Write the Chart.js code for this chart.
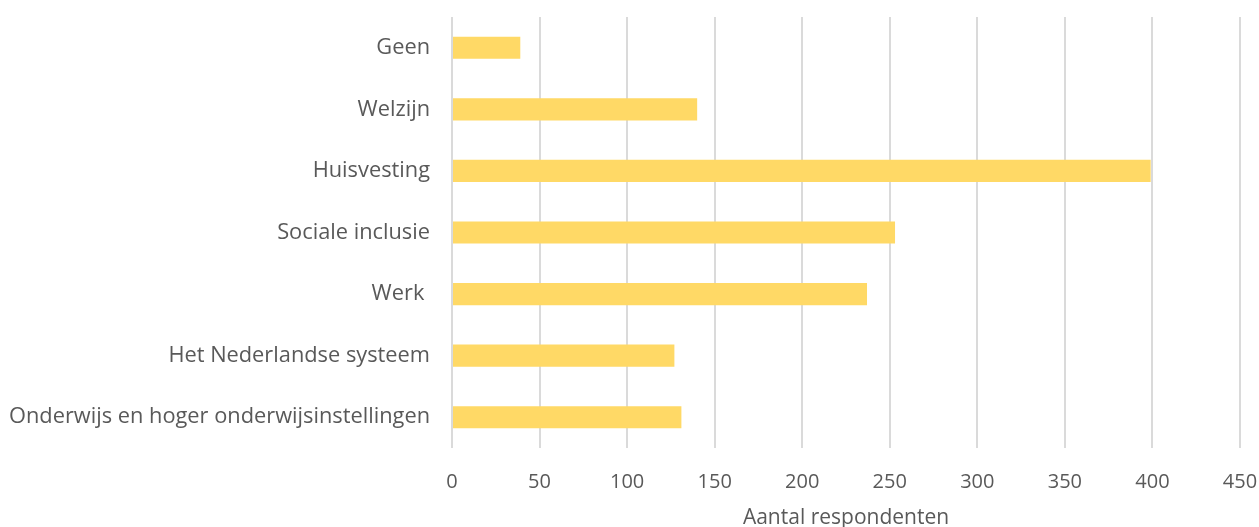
<!DOCTYPE html>
<html lang="nl">

<head>
	<meta charset="UTF-8">
	<title>Aantal respondenten</title>
	<script src="https://cdn.jsdelivr.net/npm/chart.js"></script>
	<style>
		html, body { margin: 0; padding: 0; background: #fff; }
		#wrap { width: 1259px; height: 527px; }
	</style>
</head>

<body>
	<div id="wrap"><canvas id="ctx" width="1259" height="527"></canvas></div>

	<script>
		const categories = [
			'Geen',
			'Welzijn',
			'Huisvesting',
			'Sociale inclusie',
			'Werk ',
			'Het Nederlandse systeem',
			'Onderwijs en hoger onderwijsinstellingen'
		];
		const respondents = [39, 140, 399, 253, 237, 127, 131];
		const xMin = 0, xMax = 450, xStep = 50;
		const xTitle = 'Aantal respondenten';

		const textColor = '#595959';
		const fontFamily = '"Open Sans", Lato, sans-serif';

		// drop the extra room chart.js keeps for overhanging tick labels
		function noOverhang(scale) {
			scale.paddingTop = 0;
			scale.paddingBottom = 0;
			scale.paddingLeft = 0;
			scale.paddingRight = 0;
		}

		new Chart(document.getElementById('ctx'), {
			type: 'bar',
			data: {
				labels: categories,
				datasets: [{
					data: respondents,
					backgroundColor: '#FFD966',
					borderWidth: 0,
					barPercentage: 0.36,
					categoryPercentage: 1
				}]
			},
			options: {
				indexAxis: 'y',
				responsive: false,
				animation: false,
				layout: { padding: { top: 17, right: 19, left: 0, bottom: 0 } },
				plugins: {
					legend: { display: false },
					tooltip: { enabled: false }
				},
				scales: {
					x: {
						min: xMin,
						max: xMax,
						ticks: {
							stepSize: xStep,
							color: textColor,
							padding: 22,
							font: { family: fontFamily, size: 20 }
						},
						grid: { color: '#dadada', lineWidth: 2, drawTicks: false },
						border: { display: false },
						title: {
							display: true,
							text: xTitle,
							color: textColor,
							padding: { top: 10, bottom: -4 },
							font: { family: fontFamily, size: 21 }
						},
						afterFit(scale) {
							noOverhang(scale);
							scale.height = 79;
						}
					},
					y: {
						ticks: {
							color: textColor,
							padding: 22,
							font: { family: fontFamily, size: 21.8 }
						},
						grid: { display: false, drawTicks: false },
						border: { display: false },
						afterFit(scale) {
							noOverhang(scale);
							scale.width = 452;
						}
					}
				}
			}
		});
	</script>

</body>

</html>
